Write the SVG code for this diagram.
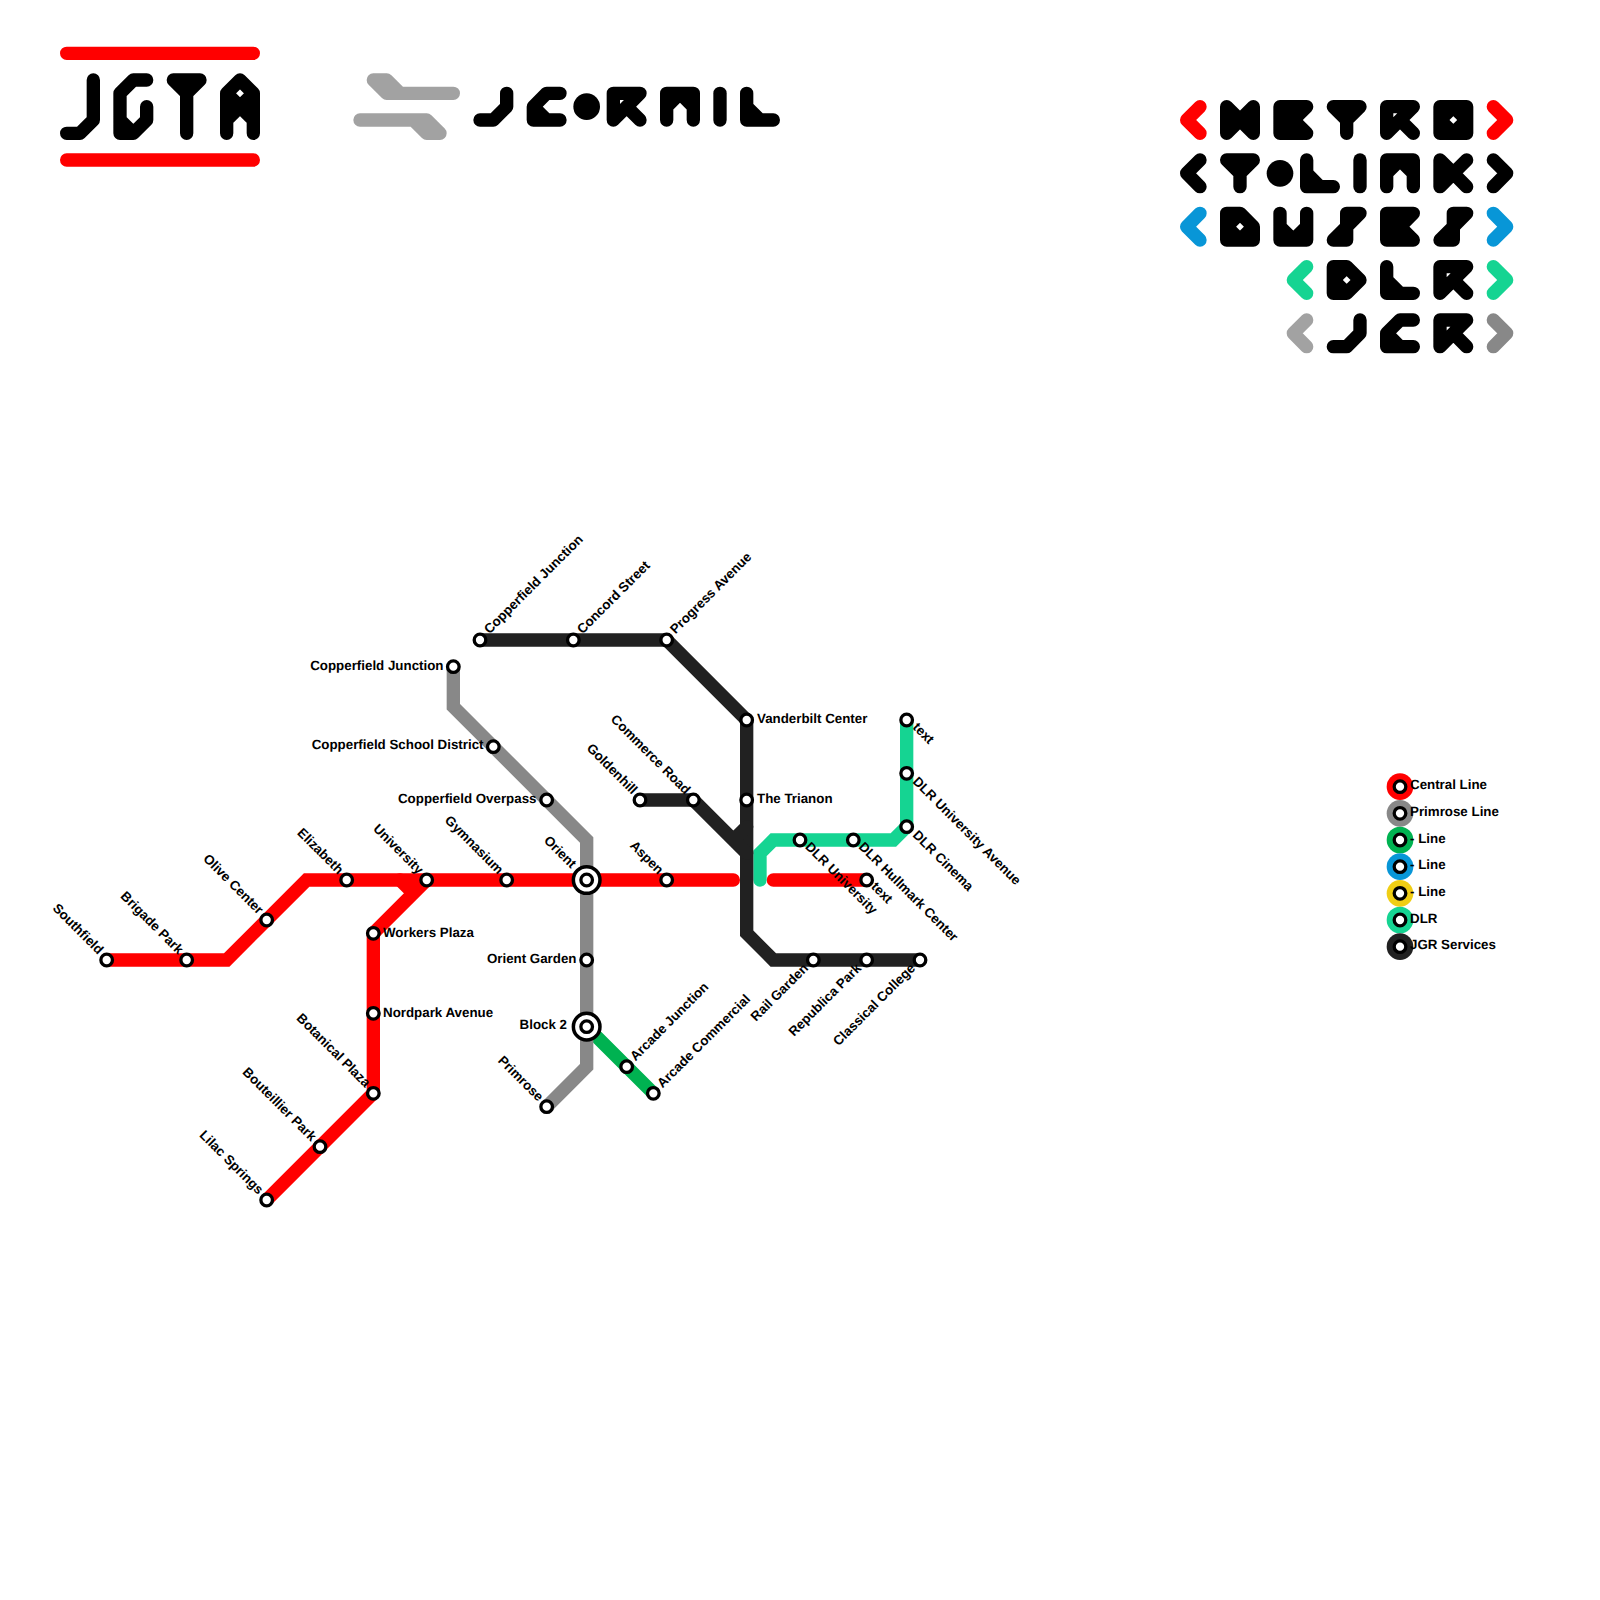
<svg xmlns="http://www.w3.org/2000/svg" width="1600" height="1600" viewBox="0 0 1600 1600">
<style>
text{font-family:"Liberation Sans",Arial,sans-serif;font-weight:700;font-size:13.33px;fill:#000;text-rendering:geometricPrecision}
.e{text-anchor:end}
.ln{fill:none;stroke-width:.5;stroke-linecap:round;stroke-linejoin:miter}
.gl{fill:none;stroke:#000;stroke-width:.5;stroke-linecap:round;stroke-linejoin:round}
.st{fill:#fff;stroke:#000;stroke-width:3.3}
.ix{fill:#fff;stroke:#000;stroke-width:3.5}
.red{stroke:#ff0000}.gry{stroke:#888888}.grn{stroke:#00b251}.jgr{stroke:#212121}.dlr{stroke:#15d492}
</style>
<defs>
<path id="gM" d="M0 1V0L.5 .5L1 0V1M0 1L.5 .5L1 1"/>
<path id="gE" d="M1 0H0V1H1L.5 .5ZM.5 .5H0"/>
<path id="gT" d="M0 0H1L.5 .5ZM.5 0V1"/>
<path id="gR" d="M1 1L.5 .5L1 0H0V1L.5 .5"/>
<path id="gO" d="M0 0H1V1H0ZM.5 0L1 .5L.5 1L0 .5Z"/>
<path id="gL" d="M0 0V1H1M0 .5L.5 1"/>
<path id="gI" d="M0 0V1"/>
<path id="gN" d="M0 1V0H1V1M0 .5L.5 0L1 .5"/>
<path id="gK" d="M0 0V1L.5 .5L1 1M0 0L.5 .5L1 0"/>
<path id="gD" d="M0 0H.5L1 .5V1H0ZM.5 0L0 .5L.5 1L1 .5"/>
<path id="gD2" d="M0 0H.5L1 .5L.5 1H0ZM.5 0L0 .5L.5 1"/>
<path id="gU" d="M0 0V1H1V0M0 .5L.5 1L1 .5"/>
<path id="gS" d="M.5 0H1L.5 .5V1H0L.5 .5Z"/>
<path id="gJ" d="M0 1H.5L1 .5V0"/>
<path id="gC" d="M1 0H.5L0 .5V1H1M0 .5L.5 1"/>
<path id="lt" d="M.5 0L0 .5L.5 1"/>
<path id="rt" d="M0 0L.5 .5L0 1"/>
</defs>

<g id="logo-jgta" transform="scale(26.6667)">
<path class="gl" style="stroke:#ff0000" d="M2.5 2H9.5M2.5 6H9.5"/>
<g class="gl">
<path d="M2.5 5H3L3.5 4.5V3"/>
<path d="M5.5 3H5L4.5 3.5V5H5L5.5 4.5V4M4.5 4.5L5 5"/>
<path d="M6.5 3H7.5L7 3.5ZM7 3V5"/>
<path d="M8.5 5V3.5L9 3L9.5 3.5V5M8.5 3.5L9 4L9.5 3.5M8.5 4.5L9 4L9.5 4.5"/>
</g>
</g>

<g id="logo-jcorail" transform="scale(26.6667)">
<path class="gl" style="stroke:#a2a2a2" d="M14 3H14.5L15 3.5H17H14.5ZM13.5 4.5H16L16.5 5H16L15.5 4.5"/>
<g class="gl">
<use href="#gJ" x="18" y="3.5"/><use href="#gC" x="20" y="3.5"/>
<use href="#gR" x="23" y="3.5"/><use href="#gN" x="25" y="3.5"/>
<use href="#gI" x="27" y="3.5"/><use href="#gL" x="28" y="3.5"/>
</g>
<circle cx="22" cy="4" r=".5"/>
</g>

<g id="sign-metro" transform="scale(26.6667)">
<g class="gl">
<use href="#lt" x="44.5" y="4" style="stroke:#ff0000"/><use href="#gM" x="46" y="4"/><use href="#gE" x="48" y="4"/><use href="#gT" x="50" y="4"/><use href="#gR" x="52" y="4"/><use href="#gO" x="54" y="4"/><use href="#rt" x="56" y="4" style="stroke:#ff0000"/>
</g>
</g>
<g id="sign-tolink" transform="scale(26.6667)">
<g class="gl">
<use href="#lt" x="44.5" y="6"/><use href="#gT" x="46" y="6"/><use href="#gL" x="49" y="6"/><use href="#gI" x="51" y="6"/><use href="#gN" x="52" y="6"/><use href="#gK" x="54" y="6"/><use href="#rt" x="56" y="6"/>
</g>
<circle cx="48" cy="6.5" r=".5"/>
</g>
<g id="sign-buses" transform="scale(26.6667)">
<g class="gl">
<use href="#lt" x="44.5" y="8" style="stroke:#0896d7"/><use href="#gD" x="46" y="8"/><use href="#gU" x="48" y="8"/><use href="#gS" x="50" y="8"/><use href="#gE" x="52" y="8"/><use href="#gS" x="54" y="8"/><use href="#rt" x="56" y="8" style="stroke:#0896d7"/>
</g>
</g>
<g id="sign-dlr" transform="scale(26.6667)">
<g class="gl">
<use href="#lt" x="48.5" y="10" style="stroke:#15d492"/><use href="#gD2" x="50" y="10"/><use href="#gL" x="52" y="10"/><use href="#gR" x="54" y="10"/><use href="#rt" x="56" y="10" style="stroke:#15d492"/>
</g>
</g>
<g id="sign-jcr" transform="scale(26.6667)">
<g class="gl">
<use href="#lt" x="48.5" y="12" style="stroke:#a2a2a2"/><use href="#gJ" x="50" y="12"/><use href="#gC" x="52" y="12"/><use href="#gR" x="54" y="12"/><use href="#rt" x="56" y="12" style="stroke:#888888"/>
</g>
</g>

<g id="connectors" transform="scale(26.6667)">
<path class="ln grn" d="M22 38.5L24.5 41"/>
<path class="ln gry" d="M17 25V26.5L22 31.5V40L20.5 41.5"/>
<path class="ln red" d="M4 36H8.5L11.5 33H27.5M29 33H32.5"/>
<path class="ln red" d="M16 33L14 35V41L10 45M15 33L15.5 33.5"/>
<path class="ln dlr" d="M28.5 33V32L29 31.5H33.5L34 31V27"/>
<path class="ln jgr" d="M18 24H25L28 27V35L29 36H34.5"/>
<path class="ln jgr" d="M24 30H26L28 32M28 31L27.5 31.5"/>
</g>

<g id="stations-central">
<g id="st-southfield"><circle class="st" cx="106.67" cy="960" r="5.8"/><text class="e" transform="translate(98 955) rotate(45)">Southfield</text></g>
<g id="st-brigade"><circle class="st" cx="186.67" cy="960" r="5.8"/><text class="e" transform="translate(178 955) rotate(45)">Brigade Park</text></g>
<g id="st-olive"><circle class="st" cx="266.67" cy="920" r="5.8"/><text class="e" transform="translate(258 915) rotate(45)">Olive Center</text></g>
<g id="st-elizabeth"><circle class="st" cx="346.67" cy="880" r="5.8"/><text class="e" transform="translate(338 875) rotate(45)">Elizabeth</text></g>
<g id="st-university"><circle class="st" cx="426.67" cy="880" r="5.8"/><text class="e" transform="translate(418 875) rotate(45)">University</text></g>
<g id="st-gymnasium"><circle class="st" cx="506.67" cy="880" r="5.8"/><text class="e" transform="translate(498 875) rotate(45)">Gymnasium</text></g>
<g id="st-aspen"><circle class="st" cx="666.67" cy="880" r="5.8"/><text class="e" transform="translate(658 875) rotate(45)">Aspen</text></g>
<g id="st-text-red"><circle class="st" cx="866.67" cy="880" r="5.8"/><text transform="translate(870.5 887.5) rotate(45)">text</text></g>
<g id="st-workers"><circle class="st" cx="373.33" cy="933.33" r="5.8"/><text x="383" y="936.6">Workers Plaza</text></g>
<g id="st-nordpark"><circle class="st" cx="373.33" cy="1013.33" r="5.8"/><text x="383" y="1016.8">Nordpark Avenue</text></g>
<g id="st-botanical"><circle class="st" cx="373.33" cy="1093.33" r="5.8"/><text class="e" transform="translate(365 1088) rotate(45)">Botanical Plaza</text></g>
<g id="st-bouteillier"><circle class="st" cx="320" cy="1146.67" r="5.8"/><text class="e" transform="translate(311 1142) rotate(45)">Bouteillier Park</text></g>
<g id="st-lilac"><circle class="st" cx="266.67" cy="1200" r="5.8"/><text class="e" transform="translate(258 1195) rotate(45)">Lilac Springs</text></g>
</g>
<g id="stations-primrose">
<g id="st-cj2"><circle class="st" cx="453.33" cy="666.67" r="5.8"/><text class="e" x="443.5" y="670">Copperfield Junction</text></g>
<g id="st-csd"><circle class="st" cx="493.33" cy="746.67" r="5.8"/><text class="e" x="483.5" y="749.3">Copperfield School District</text></g>
<g id="st-cop"><circle class="st" cx="546.67" cy="800" r="5.8"/><text class="e" x="536.5" y="802.6">Copperfield Overpass</text></g>
<g id="st-og"><circle class="st" cx="586.67" cy="960" r="5.8"/><text class="e" x="576.5" y="962.6">Orient Garden</text></g>
<g id="st-primrose"><circle class="st" cx="546.67" cy="1106.67" r="5.8"/><text class="e" transform="translate(538 1102) rotate(45)">Primrose</text></g>
<g id="st-orient"><circle class="ix" cx="586.67" cy="880" r="13.3"/><circle class="st" cx="586.67" cy="880" r="5.8"/><text class="e" transform="translate(571 869) rotate(45)">Orient</text></g>
<g id="st-block2"><circle class="ix" cx="586.67" cy="1026.67" r="13.3"/><circle class="st" cx="586.67" cy="1026.67" r="5.8"/><text class="e" x="567" y="1029.3">Block 2</text></g>
</g>
<g id="stations-green">
<g id="st-arcj"><circle class="st" cx="626.67" cy="1066.67" r="5.8"/><text transform="translate(635.5 1061.5) rotate(-45)">Arcade Junction</text></g>
<g id="st-arcc"><circle class="st" cx="653.33" cy="1093.33" r="5.8"/><text transform="translate(662.5 1088.5) rotate(-45)">Arcade Commercial</text></g>
</g>
<g id="stations-jgr">
<g id="st-cj"><circle class="st" cx="480" cy="640" r="5.8"/><text transform="translate(489.5 634.5) rotate(-45)">Copperfield Junction</text></g>
<g id="st-concord"><circle class="st" cx="573.33" cy="640" r="5.8"/><text transform="translate(582.5 634.5) rotate(-45)">Concord Street</text></g>
<g id="st-progress"><circle class="st" cx="666.67" cy="640" r="5.8"/><text transform="translate(675.5 634.5) rotate(-45)">Progress Avenue</text></g>
<g id="st-vander"><circle class="st" cx="746.67" cy="720" r="5.8"/><text x="757" y="722.6">Vanderbilt Center</text></g>
<g id="st-trianon"><circle class="st" cx="746.67" cy="800" r="5.8"/><text x="757" y="802.6">The Trianon</text></g>
<g id="st-goldenhill"><circle class="st" cx="640" cy="800" r="5.8"/><text class="e" transform="translate(632 795) rotate(45)">Goldenhill</text></g>
<g id="st-commerce"><circle class="st" cx="693.33" cy="800" r="5.8"/><text class="e" transform="translate(685 795) rotate(45)">Commerce Road</text></g>
<g id="st-rail"><circle class="st" cx="813.33" cy="960" r="5.8"/><text class="e" transform="translate(809 969) rotate(-45)">Rail Garden</text></g>
<g id="st-republica"><circle class="st" cx="866.67" cy="960" r="5.8"/><text class="e" transform="translate(862 969) rotate(-45)">Republica Park</text></g>
<g id="st-classical"><circle class="st" cx="920" cy="960" r="5.8"/><text class="e" transform="translate(916 969) rotate(-45)">Classical College</text></g>
</g>
<g id="stations-dlr">
<g id="st-text-dlr"><circle class="st" cx="906.67" cy="720" r="5.8"/><text transform="translate(912 728) rotate(45)">text</text></g>
<g id="st-dua"><circle class="st" cx="906.67" cy="773.33" r="5.8"/><text transform="translate(912 782.3) rotate(45)">DLR University Avenue</text></g>
<g id="st-dc"><circle class="st" cx="906.67" cy="826.67" r="5.8"/><text transform="translate(912 835.7) rotate(45)">DLR Cinema</text></g>
<g id="st-dh"><circle class="st" cx="853.33" cy="840" r="5.8"/><text transform="translate(858 847.5) rotate(45)">DLR Hullmark Center</text></g>
<g id="st-du"><circle class="st" cx="800" cy="840" r="5.8"/><text transform="translate(804.5 847.5) rotate(45)">DLR University</text></g>
</g>

<g id="legend">
<g id="lg-central"><circle cx="1400" cy="786.67" r="13.33" fill="#ff0000"/><circle class="st" cx="1400" cy="786.67" r="5.8"/><text x="1410" y="789.4">Central Line</text></g>
<g id="lg-primrose"><circle cx="1400" cy="813.33" r="13.33" fill="#888888"/><circle class="st" cx="1400" cy="813.33" r="5.8"/><text x="1410" y="816">Primrose Line</text></g>
<g id="lg-green"><circle cx="1400" cy="840" r="13.33" fill="#00b251"/><circle class="st" cx="1400" cy="840" r="5.8"/><text x="1410" y="842.6">- Line</text></g>
<g id="lg-blue"><circle cx="1400" cy="866.67" r="13.33" fill="#0896d7"/><circle class="st" cx="1400" cy="866.67" r="5.8"/><text x="1410" y="869.3">- Line</text></g>
<g id="lg-yellow"><circle cx="1400" cy="893.33" r="13.33" fill="#f0ce15"/><circle class="st" cx="1400" cy="893.33" r="5.8"/><text x="1410" y="896">- Line</text></g>
<g id="lg-dlr"><circle cx="1400" cy="920" r="13.33" fill="#15d492"/><circle class="st" cx="1400" cy="920" r="5.8"/><text x="1410" y="922.6">DLR</text></g>
<g id="lg-jgr"><circle cx="1400" cy="946.67" r="13.33" fill="#212121"/><circle class="st" cx="1400" cy="946.67" r="5.8"/><text x="1410" y="949.3">JGR Services</text></g>
</g>
</svg>
